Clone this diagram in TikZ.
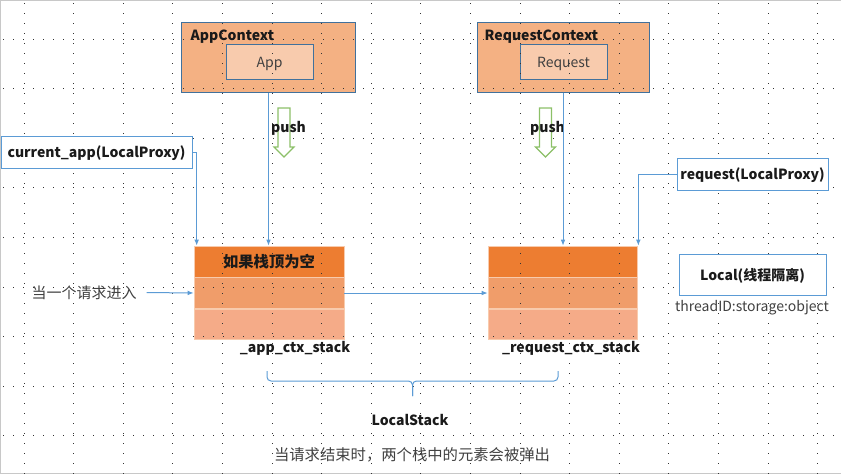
\documentclass[tikz,border=0pt]{standalone}
\usepackage{fontspec}
\setmainfont{Noto Sans CJK SC}
\usetikzlibrary{arrows.meta, positioning}

\definecolor{ctxorange}{HTML}{F4B183}
\definecolor{innerorange}{HTML}{F8CBAD}
\definecolor{boxblue}{HTML}{41719C}
\definecolor{lineblue}{HTML}{5B9BD5}
\definecolor{topband}{HTML}{ED7D31}
\definecolor{midband}{HTML}{F09D6A}
\definecolor{botband}{HTML}{F5AB88}
\definecolor{bandedge}{HTML}{F8CBAD}
\definecolor{pushgreen}{HTML}{8CC068}
\definecolor{framegray}{HTML}{C8C8C8}
\definecolor{txtblack}{HTML}{1A1A1A}
\definecolor{txtgray}{HTML}{404040}

\begin{document}
\begin{tikzpicture}[x=0.75pt, y=-0.75pt, node distance=0pt,
  font=\fontsize{10.5}{13}\selectfont, text=txtblack,
  latin/.style={text height=1.05em, text depth=0.2em},
  ctxbox/.style={draw=boxblue, fill=ctxorange, line width=0.75pt, inner sep=0pt,
    minimum width=130pt, minimum height=52.5pt},
  innerbox/.style={draw=boxblue, fill=innerorange, line width=0.75pt, inner sep=0pt,
    minimum width=65.25pt, minimum height=26.25pt, text=txtgray, latin},
  proxybox/.style={draw=lineblue, fill=white, line width=0.75pt, inner sep=0pt,
    minimum height=24pt, font=\fontsize{10.5}{13}\selectfont\bfseries, latin},
  band/.style={draw=bandedge, line width=0.5pt, inner sep=0pt,
    minimum width=112.5pt, minimum height=23pt},
  boldtext/.style={font=\fontsize{10.5}{13}\selectfont\bfseries, latin},
  link/.style={draw=lineblue, line width=0.75pt, -{Latex[length=4.5pt,width=3.5pt]}},
  brace/.style={draw=lineblue, line width=0.75pt, rounded corners=3pt},
  griddots/.style={black!80, line width=0.75pt, dash pattern=on 0.75pt off 6.75pt},
  pusharrow/.style={draw=pushgreen, fill=white, line width=0.9pt},
  ]
  \useasboundingbox (0,0) rectangle (841,475);
  \draw[framegray, line width=0.75pt] (840.5,0.5) -- (0.5,0.5) -- (0.5,473.5) -- (840.5,473.5);

  % context boxes
  \node[ctxbox] (appctx) at (268.5,57.5) {};
  \node[innerbox] (app) at (269.5,61.5) {App};
  \node[ctxbox, minimum width=129pt] (reqctx) at (563,57) {};
  \node[innerbox] (req) at (563.5,61.5) {Request};

  % the two stacks
  \node[band, fill=topband, minimum height=23.25pt] (appstack) at (269,261.5) {};
  \node[band, fill=midband] (appmid) [below=of appstack] {};
  \node[band, fill=botband] (appbot) [below=of appmid] {};
  \node[band, fill=topband, minimum height=23.25pt, minimum width=111.75pt] (reqstack) at (562.5,261.5) {};
  \node[band, fill=midband, minimum width=111.75pt] (reqmid) [below=of reqstack] {};
  \node[band, fill=botband, minimum width=111.75pt] (reqbot) [below=of reqmid] {};

  % background grid
  \foreach \r in {0,...,8}
    \draw[griddots] (3,{39+49.6*\r}) -- (841,{39+49.6*\r});
  \foreach \c in {0,...,16}
    \draw[griddots] ({24+49.6*\c},3) -- ({24+49.6*\c},475);

  \node[boldtext, anchor=west] (apptitle) at (186,35) {AppContext};
  \node[boldtext, anchor=west] (reqtitle) at (480,35) {RequestContext};
  \node[font=\fontsize{11.5}{13}\selectfont\bfseries] (apptop) at (appstack) {如果栈顶为空};

  \node[proxybox, minimum width=143.25pt] (curapp) at (96.5,152) {current\_app(LocalProxy)};
  \node[proxybox, minimum width=113.25pt] (reqproxy) at (752.5,174) {request(LocalProxy)};
  \node[proxybox, minimum width=110.25pt, minimum height=30.75pt] (local) at (752.5,274.5) {Local(线程隔离)};
  \node[text=txtgray, latin] (tid) at (752,306) {threadID:storage:object};

  % push arrows
  \foreach \cx in {284,545.5}
    \draw[pusharrow] (\cx-6,108) -- (\cx+6,108) -- (\cx+6,147) -- (\cx+10,147)
      -- (\cx,157) -- (\cx-10,147) -- (\cx-6,147) -- cycle;
  \node[boldtext] (apppush) at (288.5,127) {push};
  \node[boldtext] (reqpush) at (547.5,127) {push};

  \node[boldtext] (applbl) at (295,347) {\_app\_ctx\_stack};
  \node[boldtext] (reqlbl) at (571,347) {\_request\_ctx\_stack};
  \node[font=\fontsize{11.25}{13}\selectfont, text=txtgray] (enter) at (84,292.5) {当一个请求进入};

  % connectors
  \draw[link] (appctx.south) -- (appctx.south |- appstack.north);
  \draw[link] (reqctx.south) -- (reqctx.south |- reqstack.north);
  \draw[link] (curapp.east) -| ([xshift=2.25pt]appstack.north west);
  \draw[link] (reqproxy.west) -| ([xshift=0.75pt]reqstack.north east);
  \draw[link] ([xshift=4pt]enter.east) -- (appmid.west);
  \draw[link] (appmid.east) -- (reqmid.west);

  % LocalStack brace
  \coordinate (bl) at (267,371);
  \coordinate (br) at (558,371);
  \coordinate (bm) at (412.5,381);
  \coordinate (btip) at (412.5,396);
  \draw[brace] (bl) |- (bm) -- (btip);
  \draw[brace] (br) |- (bm) -- (btip);
  \node[boldtext] (lstack) at (410,420) {LocalStack};
  \node[font=\fontsize{11.5}{13}\selectfont, text=txtgray] (endnote) at (412,455)
    {当请求结束时，两个栈中的元素会被弹出};
\end{tikzpicture}
\end{document}
